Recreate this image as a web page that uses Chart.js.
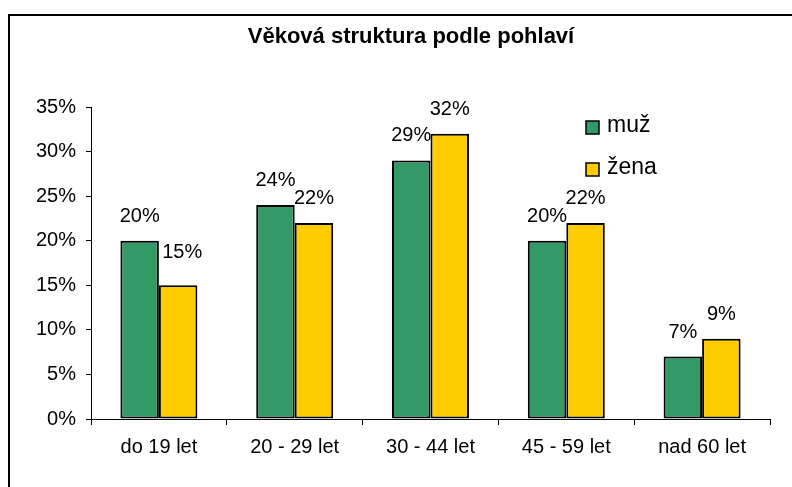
<!DOCTYPE html>
<html>
<head>
<meta charset="utf-8">
<script src="https://cdn.jsdelivr.net/npm/chart.js@4/dist/chart.umd.min.js"></script>
<style>
  html, body { margin: 0; padding: 0; background: #fff; }
  #wrap { position: relative; width: 792px; height: 487px; overflow: hidden; }
  #frame { position: absolute; left: 8px; top: 14px; width: 900px; height: 600px;
           border-left: 2px solid #000; border-top: 2px solid #000; }
  canvas { position: absolute; left: 0; top: 0; }
</style>
</head>
<body>
<div id="wrap">
  <div id="frame"></div>
  <canvas id="chart" width="792" height="487"></canvas>
</div>
<script>
// data
const TITLE = 'Věková struktura podle pohlaví';
const CATEGORIES = ['do 19 let', '20 - 29 let', '30 - 44 let', '45 - 59 let', 'nad 60 let'];
const MUZ = [20, 24, 29, 20, 7];
const ZENA = [15, 22, 32, 22, 9];
const Y_TICKS = [0, 5, 10, 15, 20, 25, 30, 35];

const FONT = '"Liberation Sans", Arial, sans-serif';
const GREEN = '#339966';
const YELLOW = '#FFCC00';

// ruční posun jednotlivých popisků (dx, dy nahoru) jako v originálu
const LABEL_NUDGE = [
    [[0, 0], [0, 0], [0, 0], [0, 0], [0, 0]],
    [[4, 8], [0, 0], [0, 0], [0, 0], [0, 0]],
];

// popisky hodnot nad sloupci
const valueLabels = {
    id: 'valueLabels',
    afterDatasetsDraw(chart) {
        const ctx = chart.ctx;
        ctx.save();
        ctx.font = '20px ' + FONT;
        ctx.fillStyle = '#000';
        ctx.textAlign = 'center';
        ctx.textBaseline = 'alphabetic';
        chart.data.datasets.forEach((ds, di) => {
            chart.getDatasetMeta(di).data.forEach((bar, i) => {
                const [dx, dy] = LABEL_NUDGE[di][i];
                ctx.fillText(ds.data[i] + '%', bar.x + dx, bar.y - 19 - dy);
            });
        });
        ctx.restore();
    },
};

// titulek a legenda uvnitř grafu
const titleAndLegend = {
    id: 'titleAndLegend',
    afterDraw(chart) {
        const ctx = chart.ctx;
        ctx.save();
        ctx.fillStyle = '#000';
        ctx.font = 'bold 22px ' + FONT;
        ctx.textAlign = 'center';
        ctx.textBaseline = 'alphabetic';
        ctx.fillText(TITLE, 411, 43);

        ctx.font = '23px ' + FONT;
        ctx.textAlign = 'left';
        chart.data.datasets.forEach((ds, i) => {
            const y = 121 + i * 42;
            ctx.fillStyle = ds.backgroundColor;
            ctx.fillRect(586, y, 13, 13);
            ctx.strokeStyle = '#000';
            ctx.lineWidth = 1.5;
            ctx.strokeRect(586, y, 13, 13);
            ctx.fillStyle = '#000';
            ctx.fillText(ds.label, 607, y + 11);
        });
        ctx.restore();
    },
};

new Chart(document.getElementById('chart'), {
    type: 'bar',
    data: {
        labels: CATEGORIES,
        datasets: [
            { label: 'muž', data: MUZ, backgroundColor: GREEN, borderColor: '#000', borderWidth: 2, borderSkipped: false },
            { label: 'žena', data: ZENA, backgroundColor: YELLOW, borderColor: '#000', borderWidth: 2, borderSkipped: false },
        ],
    },
    options: {
        responsive: false,
        animation: false,
        devicePixelRatio: 1,
        layout: { padding: { left: 0, right: 22, top: 107, bottom: 0 } },
        datasets: { bar: { categoryPercentage: 0.567, barPercentage: 1.0 } },
        plugins: {
            legend: { display: false },
            title: { display: false },
            tooltip: { enabled: false },
        },
        scales: {
            x: {
                grid: { display: true, drawOnChartArea: false, drawTicks: true, tickLength: 6, color: '#000', offset: true },
                border: { display: true, color: '#000', width: 1 },
                ticks: { font: { family: FONT, size: 20 }, color: '#000', padding: 10, maxRotation: 0 },
                afterFit(scale) { scale.height = 68; },
            },
            y: {
                min: 0,
                max: 35,
                afterBuildTicks(scale) { scale.ticks = Y_TICKS.map(v => ({ value: v })); },
                grid: { display: true, drawOnChartArea: false, drawTicks: true, tickLength: 5, color: '#000' },
                border: { display: true, color: '#000', width: 1 },
                ticks: { font: { family: FONT, size: 20 }, color: '#000', padding: 10, callback: v => v + '%' },
                afterFit(scale) { scale.width = 91; },
            },
        },
    },
    plugins: [valueLabels, titleAndLegend],
});
</script>
</body>
</html>
